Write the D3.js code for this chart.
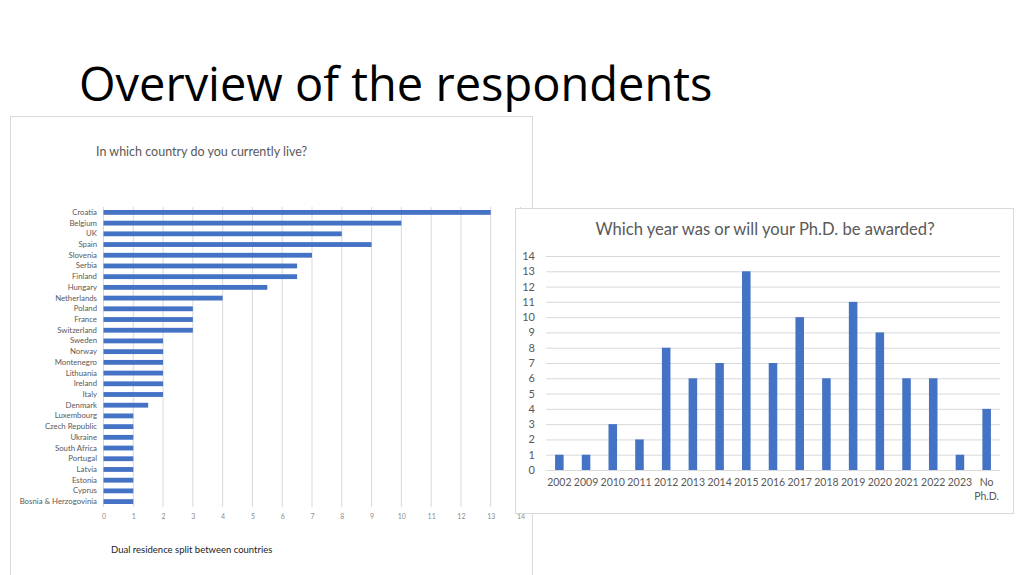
<!DOCTYPE html>
<html>
<head>
<meta charset="utf-8">
<script src="https://cdn.jsdelivr.net/npm/d3@7"></script>
<style>
  body { margin: 0; background: #fff; }
  svg { display: block; }
</style>
</head>
<body>
<svg id="c" width="1024" height="575"></svg>
<script>
// ---- Data ----
const countries = ["Croatia","Belgium","UK","Spain","Slovenia","Serbia","Finland","Hungary","Netherlands","Poland","France","Switzerland","Sweden","Norway","Montenegro","Lithuania","Ireland","Italy","Denmark","Luxembourg","Czech Republic","Ukraine","South Africa","Portugal","Latvia","Estonia","Cyprus","Bosnia & Herzogovinia"];
const countryValues = [13,10,8,9,7,6.5,6.5,5.5,4,3,3,3,2,2,2,2,2,2,1.5,1,1,1,1,1,1,1,1,1];
const countryTicks = [0,1,2,3,4,5,6,7,8,9,10,11,12,13,14];

const years = ["2002","2009","2010","2011","2012","2013","2014","2015","2016","2017","2018","2019","2020","2021","2022","2023","No Ph.D."];
const yearValues = [1,1,3,2,8,6,7,13,7,10,6,11,9,6,6,1,4];
const yearTicks = [0,1,2,3,4,5,6,7,8,9,10,11,12,13,14];

const barColor = "#4472C4";
const gridColor = "#d9d9d9";
const textGray = "#595959";

const svg = d3.select("#c");

// ---- Slide title ----
svg.append("text")
  .attr("x", 79).attr("y", 101)
  .attr("font-family", "Open Sans, Noto Sans, sans-serif")
  .attr("font-size", 47)
  .attr("fill", "#000")
  .text("Overview of the respondents");

// ---- Left chart ----
const L = svg.append("g");
L.append("rect").attr("x", 10.5).attr("y", 116.5).attr("width", 522).attr("height", 470)
  .attr("fill", "#fff").attr("stroke", gridColor);

L.append("text").attr("x", 96).attr("y", 156)
  .attr("font-family", "Lato, sans-serif").attr("font-size", 12.5)
  .attr("fill", textGray).text("In which country do you currently live?");

const xL = d3.scaleLinear().domain([0, 14]).range([103.5, 520.5]);
const yL = d3.scaleBand().domain(countries).range([207, 507]).paddingInner(0.55).paddingOuter(0.28);

// gridlines
L.append("g").selectAll("line").data(countryTicks).join("line")
  .attr("x1", d => xL(d)).attr("x2", d => xL(d))
  .attr("y1", 207).attr("y2", 507)
  .attr("stroke", gridColor).attr("stroke-width", 1);

// bars
L.append("g").selectAll("rect").data(countries).join("rect")
  .attr("x", xL(0))
  .attr("y", d => yL(d))
  .attr("width", (d, i) => xL(countryValues[i]) - xL(0))
  .attr("height", yL.bandwidth())
  .attr("fill", barColor);

// category axis labels
const yAxisL = d3.axisLeft(yL).tickSize(0).tickPadding(0);
const gyL = L.append("g").attr("transform", "translate(97,0)").call(yAxisL);
gyL.select(".domain").remove();
gyL.selectAll("text").attr("font-family", "Lato, sans-serif").attr("font-size", 7.8).attr("fill", textGray);

// x axis labels
const xAxisL = d3.axisBottom(xL).tickValues(countryTicks).tickSize(0).tickPadding(0);
const gxL = L.append("g").attr("transform", "translate(0,514)").call(xAxisL);
gxL.select(".domain").remove();
gxL.selectAll("text").attr("font-family", "Lato, sans-serif").attr("font-size", 7).attr("fill", "#8c8c8c");

L.append("text").attr("x", 111).attr("y", 553)
  .attr("font-family", "Lato, sans-serif").attr("font-size", 9.5)
  .attr("fill", "#222").text("Dual residence split between countries");

// ---- Right chart ----
const R = svg.append("g");
R.append("rect").attr("x", 515.5).attr("y", 208.5).attr("width", 498).attr("height", 305)
  .attr("fill", "#fff").attr("stroke", gridColor);

R.append("text").attr("x", 765).attr("y", 235).attr("text-anchor", "middle")
  .attr("font-family", "Lato, sans-serif").attr("font-size", 16.6)
  .attr("fill", textGray).text("Which year was or will your Ph.D. be awarded?");

const xR = d3.scaleBand().domain(years).range([546, 1000]).paddingInner(0.68).paddingOuter(0.34);
const yR = d3.scaleLinear().domain([0, 14]).range([470, 256]);

R.append("g").selectAll("line").data(yearTicks).join("line")
  .attr("x1", 546).attr("x2", 1000)
  .attr("y1", d => yR(d) + 0.5).attr("y2", d => yR(d) + 0.5)
  .attr("stroke", gridColor).attr("stroke-width", 1);

R.append("g").selectAll("rect").data(years).join("rect")
  .attr("x", d => xR(d))
  .attr("y", (d, i) => yR(yearValues[i]))
  .attr("width", xR.bandwidth())
  .attr("height", (d, i) => yR(0) - yR(yearValues[i]))
  .attr("fill", barColor);

const yAxisR = d3.axisLeft(yR).tickValues(yearTicks).tickSize(0).tickPadding(0);
const gyR = R.append("g").attr("transform", "translate(535,0)").call(yAxisR);
gyR.select(".domain").remove();
gyR.selectAll("text").attr("font-family", "Lato, sans-serif").attr("font-size", 11).attr("fill", textGray);

const xAxisR = d3.axisBottom(xR).tickSize(0).tickPadding(0);
const gxR = R.append("g").attr("transform", "translate(0,478.5)").call(xAxisR);
gxR.select(".domain").remove();
gxR.selectAll("text")
  .attr("font-family", "Lato, sans-serif").attr("font-size", 10.5).attr("fill", textGray)
  .each(function(d) {
    const t = d3.select(this);
    if (d === "No Ph.D.") {
      t.text(null);
      t.append("tspan").attr("x", 0).attr("dy", "0.71em").text("No");
      t.append("tspan").attr("x", 0).attr("dy", "1.35em").text("Ph.D.");
      t.attr("dy", null).attr("y", 0);
    }
  });
</script>
</body>
</html>
